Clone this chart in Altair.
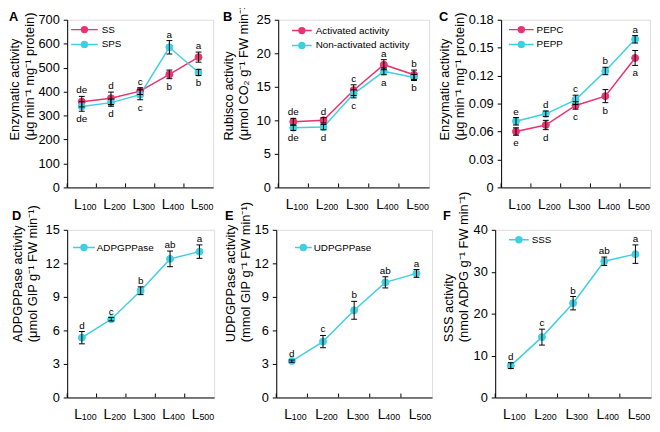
import altair as alt
import pandas as pd

FONT = "Liberation Sans"
PINK = "#E8336F"
CYAN = "#3FCFE3"

cats = ["L100", "L200", "L300", "L400", "L500"]
subs = ["100", "200", "300", "400", "500"]

# Panel A
a_ticks = [0, 100, 200, 300, 400, 500, 600, 700]
ss_val = [358, 372, 402, 472, 544]
ss_err = [22, 26, 14, 18, 21]
ss_let = ["de", "d", "c", "b", "a"]
ss_pos = ["up", "up", "up", "down", "up"]
sps_val = [338, 354, 387, 585, 480]
sps_err = [20, 15, 21, 28, 13]
sps_let = ["de", "d", "c", "a", "b"]
sps_pos = ["down", "down", "down", "up", "down"]

# Panel B
b_ticks = [0, 5, 10, 15, 20, 25]
act_val = [9.8, 10.0, 14.5, 18.3, 16.8]
act_err = [0.5, 0.4, 0.8, 0.75, 0.7]
act_let = ["de", "d", "c", "a", "b"]
act_pos = ["up", "up", "up", "up", "up"]
non_val = [8.9, 9.0, 13.95, 17.3, 16.4]
non_err = [0.4, 0.4, 0.6, 0.5, 0.45]
non_let = ["de", "d", "c", "a", "b"]
non_pos = ["down", "down", "down", "down", "down"]

# Panel C
c_ticks = [0, 0.03, 0.06, 0.09, 0.12, 0.15, 0.18]
pepc_val = [0.060, 0.067, 0.088, 0.098, 0.139]
pepc_err = [0.004, 0.005, 0.004, 0.007, 0.008]
pepc_let = ["e", "d", "c", "b", "a"]
pepc_pos = ["down", "down", "down", "down", "down"]
pepp_val = [0.071, 0.079, 0.094, 0.125, 0.159]
pepp_err = [0.004, 0.003, 0.005, 0.004, 0.004]
pepp_let = ["e", "d", "c", "b", "a"]
pepp_pos = ["up", "up", "up", "up", "up"]

# Panel D
d_ticks = [0, 3, 6, 9, 12, 15]
adp_val = [5.35, 7.0, 9.55, 12.4, 13.05]
adp_err = [0.55, 0.15, 0.35, 0.7, 0.6]
adp_let = ["d", "c", "b", "ab", "a"]
adp_pos = ["up", "up", "up", "up", "up"]

# Panel E
e_ticks = [0, 3, 6, 9, 12, 15]
udp_val = [3.26, 5.0, 7.8, 10.3, 11.1]
udp_err = [0.1, 0.55, 0.8, 0.5, 0.35]
udp_let = ["d", "c", "b", "ab", "a"]
udp_pos = ["up", "up", "up", "up", "up"]

# Panel F
f_ticks = [0, 10, 20, 30, 40]
sss_val = [7.6, 14.4, 22.5, 32.5, 34.2]
sss_err = [0.7, 1.9, 1.6, 1.0, 2.2]
sss_let = ["d", "c", "b", "ab", "a"]
sss_pos = ["up", "up", "up", "up", "up"]

enz = ["Enzymatic activity", "(\u03bcg min\u207b\u00b9 mg\u207b\u00b9 protein)"]
rub = ["Rubisco activity", "(\u03bcmol CO\u2082 g\u207b\u00b9 FW min\u207b\u00b9)"]
adp_t = ["ADPGPPase activity", "(\u03bcmol GIP g\u207b\u00b9 FW min\u207b\u00b9)"]
udp_t = ["UDPGPPase activity", "(mmol GIP g\u207b\u00b9 FW min\u207b\u00b9)"]
sss_t = ["SSS activity", "(nmol ADPG g\u207b\u00b9 FW min\u207b\u00b9)"]


def make_df(series):
    rows = []
    for name, vals, errs, lets, poss, _ in series:
        for c, v, e, l, p in zip(cats, vals, errs, lets, poss):
            rows.append(dict(cat=c, series=name, val=v, lo=v - e, hi=v + e, let=l, pos=p))
    return pd.DataFrame(rows)


def sym(L):
    a = L / 6.0
    return f"M{-a:.2f},0L{a:.2f},0M-1,0A1,1,0,1,0,1,0A1,1,0,1,0,-1,0Z"


def panel(series, letter, ytitle, yticks, lexpr, w, h, ext, title_y, letter_y,
          leg_len, leg_x, leg_y, leg_off):
    df = make_df(series)
    names = [s[0] for s in series]
    colors = [s[5] for s in series]
    cscale = alt.Scale(domain=names, range=colors)
    xs = alt.Scale(type="band", domain=cats, paddingInner=0, paddingOuter=0)
    xaxis = alt.Axis(
        labelExpr="'L'", labelAngle=0, labelAlign="right", labelBaseline="top",
        labelFontSize=14, labelPadding=10, ticks=False, domain=True,
        domainColor="black", labelColor="black", labelFont=FONT)
    X = alt.X("cat:N", scale=xs, title=None, axis=xaxis)
    axis_kw = dict(values=yticks, title=None, grid=False, tickSize=4, labelPadding=4,
                   labelFontSize=13, domainColor="black", tickColor="black",
                   labelColor="black", labelFont=FONT)
    if lexpr:
        axis_kw["labelExpr"] = lexpr
    yaxis = alt.Axis(**axis_kw)
    ysc = alt.Scale(domain=[0, yticks[-1]], nice=False, zero=True)

    def Y(f):
        return alt.Y(f"{f}:Q", scale=ysc, axis=yaxis, title=None)

    leg = alt.Legend(title=None, orient="none", legendX=leg_x, legendY=leg_y,
                     symbolType=sym(leg_len), symbolSize=36, symbolStrokeWidth=1.5,
                     labelFontSize=10, labelFont=FONT, labelColor="black",
                     labelOffset=leg_off, rowPadding=3, padding=0)

    base = alt.Chart(df)
    line = base.mark_line(strokeWidth=1.5).encode(
        x=X, y=Y("val"),
        stroke=alt.Stroke("series:N", scale=cscale, legend=leg))
    pts = base.mark_point(filled=True, size=50, opacity=1, strokeWidth=1).encode(
        x=X, y=Y("val"),
        fill=alt.Fill("series:N", scale=cscale, legend=leg),
        stroke=alt.Stroke("series:N", scale=cscale, legend=leg))
    rule = base.mark_rule(color="black", strokeWidth=1).encode(
        x=X, y=Y("lo"), y2="hi:Q")
    cap_lo = base.mark_tick(color="black", size=6, thickness=1, opacity=1).encode(
        x=X, y=Y("lo"))
    cap_hi = base.mark_tick(color="black", size=6, thickness=1, opacity=1).encode(
        x=X, y=Y("hi"))
    t_up = base.transform_filter("datum.pos == 'up'").mark_text(
        baseline="alphabetic", dy=-3, fontSize=10, font=FONT, color="black").encode(
        x=X, y=Y("hi"), text="let:N")
    t_dn = base.transform_filter("datum.pos == 'down'").mark_text(
        baseline="top", dy=3, fontSize=10, font=FONT, color="black").encode(
        x=X, y=Y("lo"), text="let:N")
    cat_df = pd.DataFrame({"cat": cats, "sub": subs})
    sub = alt.Chart(cat_df).mark_text(
        align="left", baseline="alphabetic", fontSize=9, font=FONT, color="black").encode(
        x=X, y=alt.value(h + 23), text="sub:N")
    # inward x ticks at the band boundaries
    xt = alt.Chart(cat_df).mark_rule(color="black", strokeWidth=1).encode(
        x=alt.X("cat:N", scale=xs, axis=xaxis, title=None, bandPosition=0),
        y=alt.value(h), y2=alt.value(h - 4))
    lab = alt.Chart(pd.DataFrame({"t": [letter]})).mark_text(
        align="left", baseline="alphabetic", fontSize=13, fontWeight="bold",
        font=FONT, color="black").encode(
        x=alt.value(-ext), y=alt.value(letter_y), text="t:N")
    # y-axis title, two lines
    tl1 = alt.Chart(pd.DataFrame({"t": [ytitle[0]]})).mark_text(
        angle=270, align="left", baseline="top", fontSize=13, font=FONT,
        color="black").encode(x=alt.value(-ext), y=alt.value(title_y), text="t:N")
    tl2 = alt.Chart(pd.DataFrame({"t": [ytitle[1]]})).mark_text(
        angle=270, align="left", baseline="top", fontSize=13, font=FONT,
        color="black").encode(x=alt.value(-ext + 15), y=alt.value(title_y), text="t:N")
    return alt.layer(line, pts, rule, cap_lo, cap_hi, t_up, t_dn, sub, xt, lab,
                     tl1, tl2).properties(width=w, height=h)


H1 = 170
H2 = 170
c_expr = "datum.value == 0 ? '0' : format(datum.value, '.2f')"

pA = panel([("SS", ss_val, ss_err, ss_let, ss_pos, PINK),
            ("SPS", sps_val, sps_err, sps_let, sps_pos, CYAN)],
           "A", enz, a_ticks, None, 148, H1, 59, 0.72 * H1, 1, 27, 12.5, 5, 12.5)
pB = panel([("Activated activity", act_val, act_err, act_let, act_pos, PINK),
            ("Non-activated activity", non_val, non_err, non_let, non_pos, CYAN)],
           "B", rub, b_ticks, None, 153, H1, 56, 0.72 * H1, 1, 20, 19, 6, 9)
pC = panel([("PEPC", pepc_val, pepc_err, pepc_let, pepc_pos, PINK),
            ("PEPP", pepp_val, pepp_err, pepp_let, pepp_pos, CYAN)],
           "C", enz, c_ticks, c_expr, 151, H1, 63, 0.72 * H1, 1, 25, 15.5, 5, 10.5)
pD = panel([("ADPGPPase", adp_val, adp_err, adp_let, adp_pos, CYAN)],
           "D", adp_t, d_ticks, None, 149, H2, 56, 0.67 * H2, -10, 22, 12, 13, 8)
pE = panel([("UDPGPPase", udp_val, udp_err, udp_let, udp_pos, CYAN)],
           "E", udp_t, e_ticks, None, 158, H2, 52, 0.67 * H2, -10, 17, 22.5, 13, 5.5)
pF = panel([("SSS", sss_val, sss_err, sss_let, sss_pos, CYAN)],
           "F", sss_t, f_ticks, None, 158, H2, 53, 0.67 * H2, -10, 20, 19, 5, 8)

row1 = alt.hconcat(pA, pB, pC, spacing=8).resolve_scale(
    fill="independent", stroke="independent").resolve_legend(
    fill="independent", stroke="independent")
row2 = alt.hconcat(pD, pE, pF, spacing=9).resolve_scale(
    fill="independent", stroke="independent").resolve_legend(
    fill="independent", stroke="independent")
chart = alt.vconcat(row1, row2, spacing=-23).resolve_scale(
    fill="independent", stroke="independent").resolve_legend(
    fill="independent", stroke="independent").properties(
    padding={"left": 0, "top": -11, "right": 0, "bottom": 0}).configure_view(
    stroke="black", strokeWidth=1).configure(font=FONT)

chart.save("out.html", embed_options={"renderer": "svg", "actions": False})
